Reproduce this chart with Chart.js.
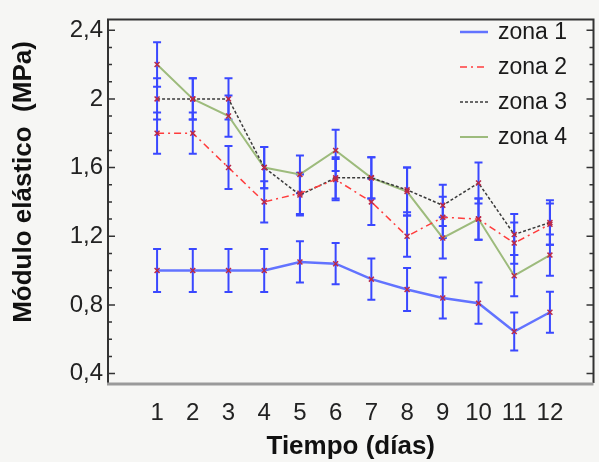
<!DOCTYPE html>
<html>
<head>
<meta charset="utf-8">
<script src="https://cdn.jsdelivr.net/npm/chart.js@4.4.1/dist/chart.umd.min.js"></script>
<style>
  html, body { margin: 0; padding: 0; background: #f6f6f4; }
  #wrap { width: 599px; height: 462px; }
</style>
</head>
<body>
<div id="wrap"><canvas id="chart" width="599" height="462"></canvas></div>
<script>
// Tiempo (días)
const days = [1, 2, 3, 4, 5, 6, 7, 8, 9, 10, 11, 12];

// Módulo elástico (MPa) per zone
const zona1 = [1.0, 1.0, 1.0, 1.0, 1.05, 1.04, 0.95, 0.89, 0.84, 0.81, 0.645, 0.757];
const zona2 = [1.8, 1.8, 1.6, 1.4, 1.45, 1.53, 1.40, 1.20, 1.31, 1.30, 1.16, 1.27];
const zona3 = [2.0, 2.0, 2.0, 1.6, 1.44, 1.54, 1.54, 1.47, 1.38, 1.51, 1.21, 1.28];
const zona4 = [2.2, 2.0, 1.9, 1.6, 1.56, 1.70, 1.54, 1.46, 1.19, 1.30, 0.97, 1.09];

// half-width of the error bars
const err1 = [0.125, 0.125, 0.125, 0.125, 0.12, 0.12, 0.12, 0.125, 0.12, 0.12, 0.11, 0.12];
const err2 = [0.12, 0.12, 0.125, 0.12, 0.12, 0.12, 0.135, 0.12, 0.12, 0.12, 0.12, 0.12];
const err3 = [0.12, 0.12, 0.12, 0.12, 0.12, 0.12, 0.12, 0.13, 0.12, 0.12, 0.12, 0.13];
const err4 = [0.13, 0.12, 0.12, 0.12, 0.11, 0.12, 0.12, 0.14, 0.12, 0.12, 0.12, 0.12];

const yTicks = [0.4, 0.8, 1.2, 1.6, 2.0, 2.4];

const FONT = "'Liberation Sans', Arial, sans-serif";

function toPoints(vals) {
  return days.map((d, i) => ({ x: d, y: vals[i] }));
}

function makeSet(label, vals, errs, color, width, dash) {
  return {
    label,
    data: toPoints(vals),
    errors: errs,
    borderColor: color,
    borderWidth: width,
    borderDash: dash,
    fill: false,
    tension: 0,
    pointStyle: 'crossRot',
    pointRadius: 3.5,
    pointBorderWidth: 1.5,
    pointBorderColor: '#b8284a',
    pointBackgroundColor: '#b8284a'
  };
}

const decor = {
  id: 'decor',
  beforeDraw(chart) {
    const ctx = chart.ctx;
    ctx.save();
    ctx.fillStyle = '#f6f6f4';
    ctx.fillRect(0, 0, chart.width, chart.height);
    ctx.restore();
  },
  beforeDatasetsDraw(chart) {
    // error bars
    const ctx = chart.ctx;
    const xs = chart.scales.x, ys = chart.scales.y;
    ctx.save();
    ctx.strokeStyle = '#3a48ff';
    ctx.lineWidth = 2;
    chart.data.datasets.forEach(ds => {
      ds.data.forEach((p, i) => {
        const e = ds.errors[i];
        const x = xs.getPixelForValue(p.x);
        const y1 = ys.getPixelForValue(p.y + e);
        const y2 = ys.getPixelForValue(p.y - e);
        ctx.beginPath();
        ctx.moveTo(x, y1); ctx.lineTo(x, y2);
        ctx.moveTo(x - 4, y1); ctx.lineTo(x + 4, y1);
        ctx.moveTo(x - 4, y2); ctx.lineTo(x + 4, y2);
        ctx.stroke();
      });
    });
    ctx.restore();
  },
  afterDraw(chart) {
    const ctx = chart.ctx;
    const a = chart.chartArea;
    const ys = chart.scales.y;
    ctx.save();

    // frame
    ctx.strokeStyle = '#333';
    ctx.lineWidth = 2;
    ctx.beginPath();
    ctx.moveTo(a.left, a.bottom); ctx.lineTo(a.left, a.top);
    ctx.lineTo(a.right, a.top); ctx.lineTo(a.right, a.bottom);
    ctx.stroke();
    ctx.strokeStyle = '#9a9a9a';
    ctx.lineWidth = 3;
    ctx.beginPath();
    ctx.moveTo(a.left - 1, a.bottom + 1); ctx.lineTo(a.right, a.bottom + 1);
    ctx.stroke();

    // inward tick marks, major every 0.4 and minor every 0.1
    ctx.strokeStyle = '#333';
    ctx.lineWidth = 1.5;
    for (let k = 4; k <= 24; k++) {
      const y = ys.getPixelForValue(k / 10);
      const len = k % 4 === 0 ? 7 : 4;
      ctx.beginPath();
      ctx.moveTo(a.left, y); ctx.lineTo(a.left + len, y);
      ctx.moveTo(a.right, y); ctx.lineTo(a.right - len, y);
      ctx.stroke();
    }

    // y title
    ctx.fillStyle = '#111';
    ctx.font = 'bold 26px ' + FONT;
    ctx.textAlign = 'center';
    ctx.textBaseline = 'middle';
    ctx.translate(24, 182);
    ctx.rotate(-Math.PI / 2);
    ctx.fillText('Módulo elástico  (MPa)', 0, 0);
    ctx.setTransform(1, 0, 0, 1, 0, 0);

    // legend
    ctx.font = '23px ' + FONT;
    ctx.textAlign = 'left';
    chart.data.datasets.forEach((ds, i) => {
      const y = 32 + i * 35;
      ctx.strokeStyle = ds.borderColor;
      ctx.lineWidth = ds.borderWidth;
      ctx.setLineDash(ds.borderDash || []);
      ctx.beginPath();
      ctx.moveTo(460, y); ctx.lineTo(488, y);
      ctx.stroke();
      ctx.setLineDash([]);
      ctx.fillStyle = '#1a1a1a';
      ctx.fillText(ds.label, 498, y + 1);
    });
    ctx.restore();
  }
};

new Chart(document.getElementById('chart'), {
  type: 'line',
  data: {
    datasets: [
      makeSet('zona 1', zona1, err1, '#6273ff', 2.5, []),
      makeSet('zona 2', zona2, err2, '#ff3c3c', 1.5, [7, 4, 2, 4]),
      makeSet('zona 3', zona3, err3, '#3a3a3a', 1.5, [3, 2]),
      makeSet('zona 4', zona4, err4, '#9dbb7c', 2, [])
    ]
  },
  options: {
    responsive: false,
    animation: false,
    layout: { padding: { top: 11, right: 2, left: 0, bottom: 0 } },
    plugins: {
      legend: { display: false },
      tooltip: { enabled: false }
    },
    scales: {
      x: {
        type: 'linear',
        min: -0.374,
        max: 13.22,
        afterBuildTicks: s => { s.ticks = days.map(v => ({ value: v })); },
        afterFit: s => { s.height = 79; },
        grid: { display: false },
        border: { display: false },
        ticks: {
          autoSkip: false,
          maxRotation: 0,
          padding: 8,
          color: '#222',
          font: { family: FONT, size: 24 }
        },
        title: {
          display: true,
          text: 'Tiempo (días)',
          color: '#111',
          font: { family: FONT, size: 26, weight: 'bold' },
          padding: { top: 1, bottom: 0 }
        }
      },
      y: {
        min: 0.345,
        max: 2.463,
        afterBuildTicks: s => { s.ticks = yTicks.map(v => ({ value: v })); },
        afterFit: s => { s.width = 108; },
        grid: { display: false, drawTicks: false },
        border: { display: false },
        ticks: {
          padding: 5,
          color: '#222',
          font: { family: FONT, size: 24 },
          callback: v => String(Math.round(v * 10) / 10).replace('.', ',')
        }
      }
    }
  },
  plugins: [decor]
});
</script>
</body>
</html>
